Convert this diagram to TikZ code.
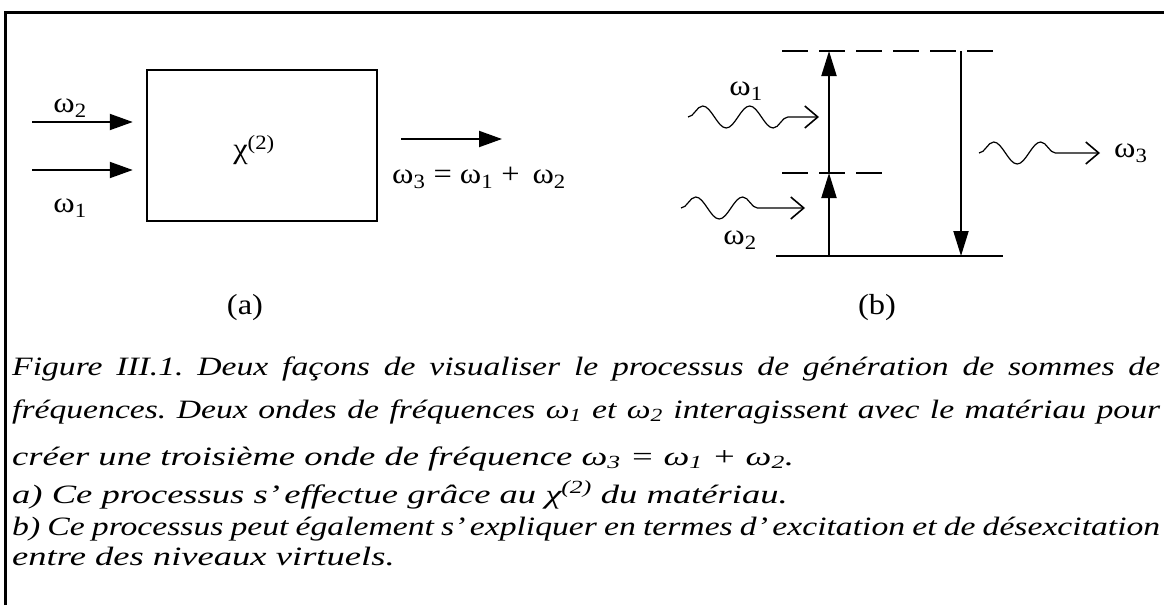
\documentclass[tikz,border=0pt]{standalone}
\usepackage{fontspec}
\setmainfont{Liberation Serif}
\newfontfamily\figfont[FakeStretch=1.12]{Liberation Serif}
\newfontfamily\capfont[FakeStretch=1.38]{Liberation Serif}
\newfontfamily\capjfont[FakeStretch=1.27]{Liberation Serif}
\usetikzlibrary{arrows.meta,decorations.pathmorphing,positioning}
\newcommand{\om}[1]{ω\textsubscript{#1}}
\frenchspacing

\begin{document}
\begin{tikzpicture}[x=1pt, y=-1pt,
    lbl/.style={font=\figfont\fontsize{29}{32}\selectfont, inner sep=0pt},
    capline/.style={font=\capfont\fontsize{26.5}{30}\selectfont\itshape, anchor=base west, inner sep=0pt},
    capjust/.style={capline, font=\capjfont\fontsize{26.5}{30}\selectfont\itshape},
    beam/.style={line width=2pt, -{Triangle[length=23pt,width=16pt]}},
    jump/.style={line width=2pt, -{Triangle[length=25pt,width=15pt]}},
    photon/.style={line width=1.2pt, decorate,
      decoration={snake, amplitude=11pt, segment length=47pt, post length=30pt},
      -{Straight Barb[length=13pt,width=22pt,line width=1.6pt]}},
    virt/.style={line width=2pt, dash pattern=on 26pt off 11pt}]
  \useasboundingbox (0,0) rectangle (1164,605);
  \draw[line width=3pt] (5,605) -- (5,12) -- (1164,12);

  % (a) boite chi(2)
  \node[draw, line width=2.5pt, minimum width=230pt, minimum height=151pt, inner sep=0pt] (chi) at (262,145.5) {};
  \node[lbl] (chilbl) at (254,150) {χ\textsuperscript{(2)}};
  \coordinate (in2) at (32,122);
  \coordinate (in1) at (32,170);
  \draw[beam, shorten >=13pt] (in2) -- (in2 -| chi.west);
  \draw[beam, shorten >=13pt] (in1) -- (in1 -| chi.west);
  \node[lbl] (w2a) at (70,108) {\om{2}};
  \node[lbl] (w1a) at (70,208) {\om{1}};
  \coordinate (out0) at (401,139);
  \coordinate (out1) at (502,139);
  \draw[beam] (out0) -- (out1);
  \node[lbl] (eqa) at (479,178) {\om{3} = \om{1} +\, \om{2}};
  \node[lbl] (tagA) at (245,308) {(a)};

  % (b) niveaux virtuels
  \coordinate (g0) at (776,256);
  \coordinate (g1) at (1003,256);
  \coordinate (t0) at (782,51);
  \coordinate (t1) at (997,51);
  \coordinate (m0) at (782,173);
  \coordinate (m1) at (883,173);
  \draw[line width=2pt] (g0) -- (g1);
  \draw[virt] (t0) -- (t1);
  \draw[virt] (m0) -- (m1);
  \coordinate (upg) at (829,256);
  \coordinate (upm) at (829,173);
  \coordinate (upt) at (829,51);
  \draw[jump] (upg) -- (upm);
  \draw[jump] (upm) -- (upt);
  \coordinate (dnt) at (961,51);
  \coordinate (dng) at (961,256);
  \draw[jump] (dnt) -- (dng);
  \coordinate (p1a) at (688,117);
  \coordinate (p1b) at (819,117);
  \coordinate (p2a) at (681,208);
  \coordinate (p2b) at (805,208);
  \coordinate (p3a) at (979,153);
  \coordinate (p3b) at (1100,153);
  \draw[photon] (p1a) -- (p1b);
  \draw[photon] (p2a) -- (p2b);
  \draw[photon] (p3a) -- (p3b);
  \node[lbl] (w1b) at (746,91) {\om{1}};
  \node[lbl] (w2b) at (740,240) {\om{2}};
  \node[lbl, right=14pt of p3b] (w3b) {\om{3}};
  \node[lbl] (tagB) at (877,308) {(b)};

  % legende
  \node[capjust] (cap1) at (12,375) {\makebox[1148pt][s]{Figure III.1. Deux façons de visualiser le processus de génération de sommes de}};
  \node[capjust] (cap2) at (12,418) {\makebox[1148pt][s]{fréquences. Deux ondes de fréquences \om{1} et \om{2} interagissent avec le matériau pour}};
  \node[capline] (cap3) at (12,465) {créer une troisième onde de fréquence \om{3} = \om{1} + \om{2}.};
  \node[capline] (cap4) at (12,503) {a) Ce processus s’\,effectue grâce au χ\textsuperscript{(2)} du matériau.};
  \node[capjust] (cap5) at (12,535) {\makebox[1148pt][s]{b) Ce processus peut également s’\,expliquer en termes d’\,excitation et de désexcitation}};
  \node[capline] (cap6) at (12,565) {entre des niveaux virtuels.};
\end{tikzpicture}
\end{document}
